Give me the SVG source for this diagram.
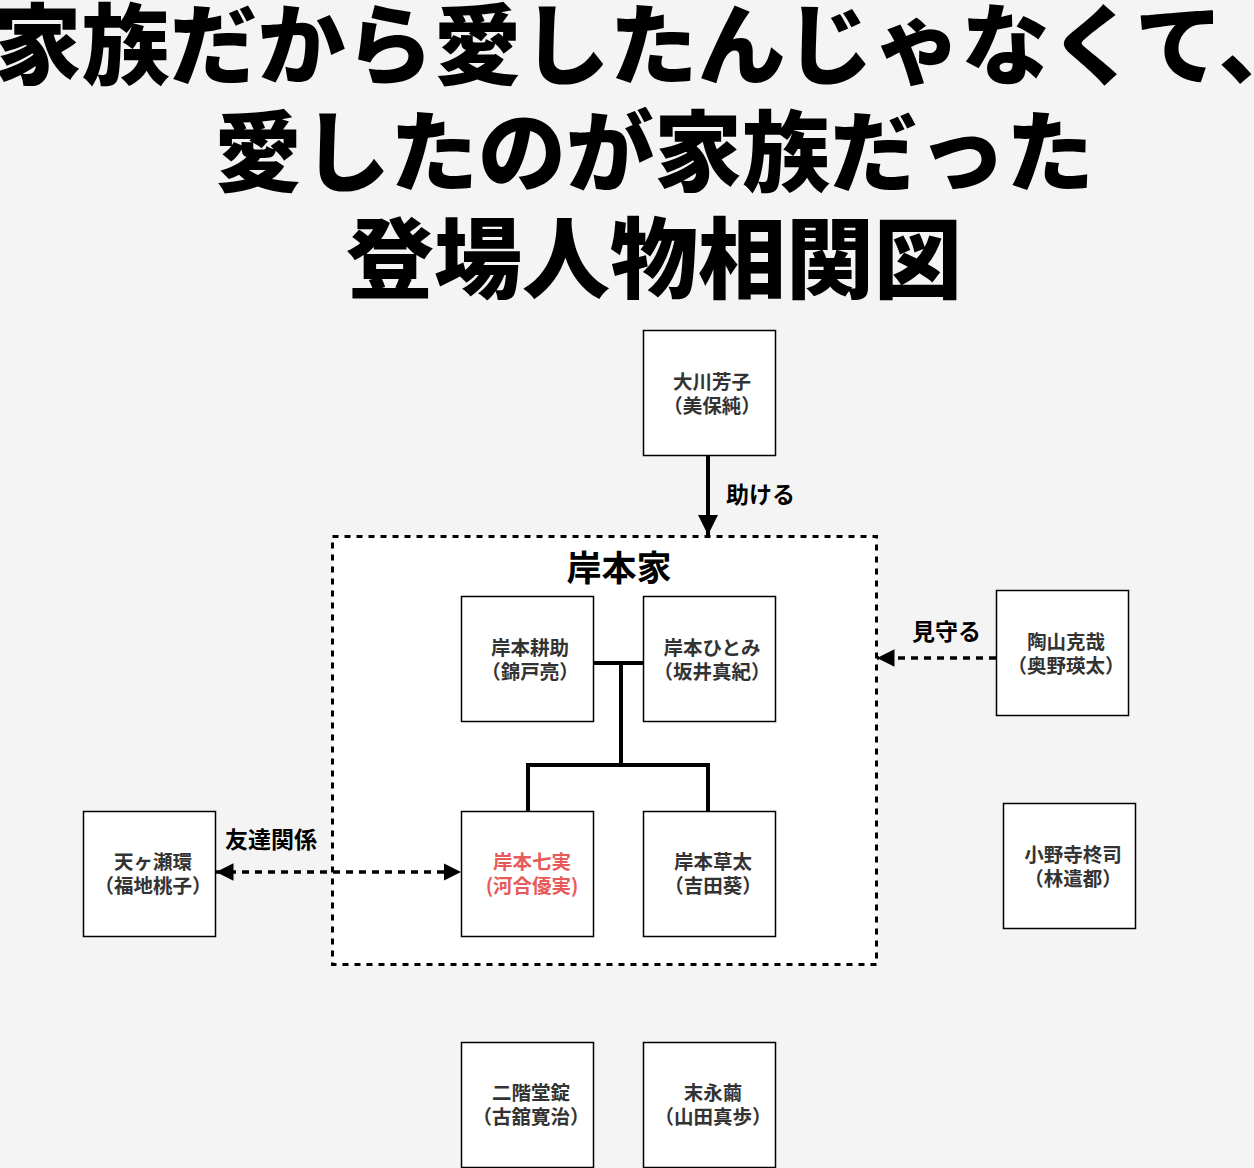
<svg xmlns="http://www.w3.org/2000/svg" width="1254" height="1168" viewBox="0 0 1254 1168">
<style>
.title{font-family:"Noto Sans CJK JP","Noto Sans CJK SC",sans-serif;font-weight:900;font-size:88px;fill:#000;text-anchor:middle}
.box{fill:#fff;stroke:#000;stroke-width:1.5}
.nt{font-family:"Noto Sans CJK JP","Noto Sans CJK SC",sans-serif;font-weight:700;font-size:19.5px;fill:#333;text-anchor:middle}
.red{fill:#e85a5a}
.lbl{font-family:"Noto Sans CJK JP","Noto Sans CJK SC",sans-serif;font-weight:700;font-size:23px;fill:#000}
.grp{fill:#fff;stroke:#000;stroke-width:3;stroke-dasharray:6 6}
.solid{fill:none;stroke:#000;stroke-width:4}
.dash{fill:none;stroke:#000;stroke-width:3.5;stroke-dasharray:7 6}
</style>
<defs>
<marker id="ah" viewBox="0 0 10 10" refX="10" refY="5" markerWidth="5" markerHeight="5" markerUnits="strokeWidth" orient="auto-start-reverse">
<path d="M0,0 L10,5 L0,10 Z" fill="#000"/>
</marker>
</defs>
<rect width="1254" height="1168" fill="#f4f4f4"/>
<g id="title">
<text class="title" x="650" y="77">家族だから愛したんじゃなくて、</text>
<text class="title" x="654" y="184">愛したのが家族だった</text>
<text class="title" x="654" y="291">登場人物相関図</text>
</g>
<g id="kishimoto-family">
<rect class="grp" x="332.5" y="536.5" width="544" height="428"/>
<text class="lbl" x="619" y="581" style="font-size:35px;text-anchor:middle">岸本家</text>
</g>
<g id="connectors">
<line class="solid" x1="708" y1="455" x2="708" y2="535" marker-end="url(#ah)"/>
<text class="lbl" x="726" y="503">助ける</text>
<line class="dash" x1="996" y1="658" x2="877" y2="658" marker-end="url(#ah)"/>
<text class="lbl" x="912" y="640">見守る</text>
<line class="dash" x1="216" y1="872" x2="461" y2="872" marker-start="url(#ah)" marker-end="url(#ah)"/>
<text class="lbl" x="225" y="848">友達関係</text>
<polyline class="solid" points="593,663 643,663"/>
<polyline class="solid" points="621,663 621,765"/>
<polyline class="solid" points="528,811 528,765 708,765 708,811"/>
</g>
<g id="node-okawa">
<rect class="box" x="643.5" y="330.5" width="132" height="125"/>
<text class="nt" x="712" y="389">大川芳子</text>
<text class="nt" x="712" y="413">（美保純）</text>
</g>
<g id="node-kosuke">
<rect class="box" x="461.5" y="596.5" width="132" height="125"/>
<text class="nt" x="530" y="655">岸本耕助</text>
<text class="nt" x="530" y="679">（錦戸亮）</text>
</g>
<g id="node-hitomi">
<rect class="box" x="643.5" y="596.5" width="132" height="125"/>
<text class="nt" x="712" y="655">岸本ひとみ</text>
<text class="nt" x="712" y="679">（坂井真紀）</text>
</g>
<g id="node-nanami">
<rect class="box" x="461.5" y="811.5" width="132" height="125"/>
<text class="nt red" x="532" y="869">岸本七実</text>
<text class="nt red" x="532" y="893">(河合優実)</text>
</g>
<g id="node-souta">
<rect class="box" x="643.5" y="811.5" width="132" height="125"/>
<text class="nt" x="713" y="869">岸本草太</text>
<text class="nt" x="713" y="893">（吉田葵）</text>
</g>
<g id="node-amagase">
<rect class="box" x="83.5" y="811.5" width="132" height="125"/>
<text class="nt" x="153" y="869">天ヶ瀬環</text>
<text class="nt" x="153" y="893">（福地桃子）</text>
</g>
<g id="node-suyama">
<rect class="box" x="996.5" y="590.5" width="132" height="125"/>
<text class="nt" x="1066" y="649">陶山克哉</text>
<text class="nt" x="1066" y="673">（奥野瑛太）</text>
</g>
<g id="node-onodera">
<rect class="box" x="1003.5" y="803.5" width="132" height="125"/>
<text class="nt" x="1073" y="862">小野寺柊司</text>
<text class="nt" x="1073" y="886">（林遣都）</text>
</g>
<g id="node-nikaido">
<rect class="box" x="461.5" y="1042.5" width="132" height="125"/>
<text class="nt" x="531" y="1100">二階堂錠</text>
<text class="nt" x="531" y="1124">（古舘寛治）</text>
</g>
<g id="node-suenaga">
<rect class="box" x="643.5" y="1042.5" width="132" height="125"/>
<text class="nt" x="713" y="1100">末永繭</text>
<text class="nt" x="713" y="1124">（山田真歩）</text>
</g>
</svg>
